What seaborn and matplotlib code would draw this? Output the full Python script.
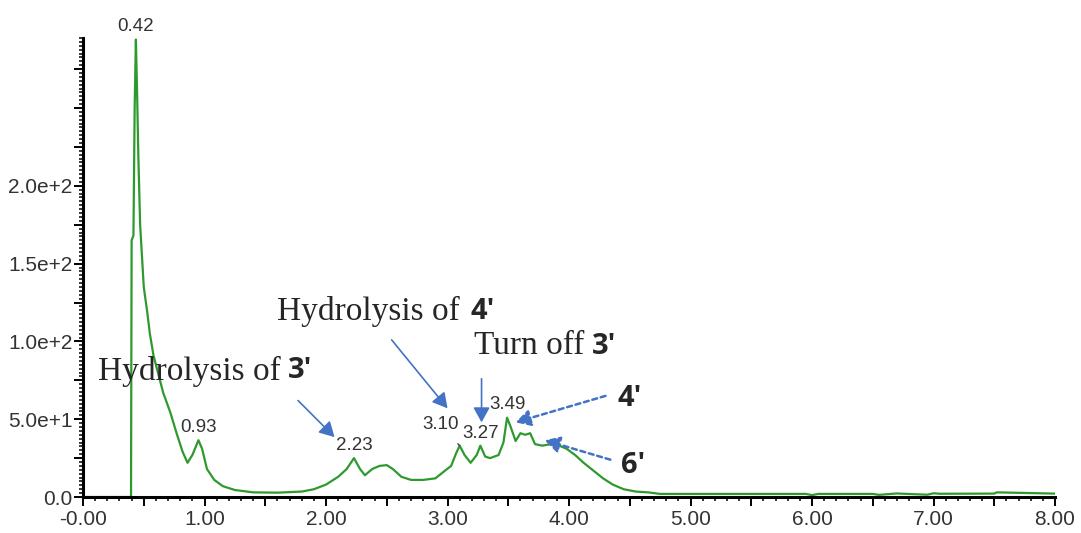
import matplotlib
matplotlib.use("Agg")
import matplotlib.pyplot as plt
import seaborn as sns
import pandas as pd
from matplotlib.ticker import MultipleLocator, FuncFormatter

# retention time (min) and signal
rt = [0.00, 0.38, 0.395, 0.40, 0.415, 0.425, 0.435, 0.445, 0.455, 0.47, 0.50, 0.53,
      0.55, 0.58, 0.62, 0.66, 0.72, 0.77, 0.82, 0.86, 0.90, 0.95, 0.98, 1.02, 1.08,
      1.15, 1.25, 1.40, 1.60, 1.80, 1.90, 2.00, 2.10, 2.17, 2.23, 2.28, 2.32,
      2.38, 2.44, 2.50, 2.55, 2.62, 2.70, 2.80, 2.90, 2.98, 3.03, 3.07, 3.10,
      3.14, 3.19, 3.24, 3.27, 3.31, 3.35, 3.42, 3.46, 3.49, 3.52, 3.56, 3.60,
      3.64, 3.68, 3.72, 3.78, 3.85, 3.92, 3.98, 4.05, 4.12, 4.20, 4.28, 4.36,
      4.45, 4.55, 4.65, 4.75, 5.00, 5.50, 5.95, 6.00, 6.05, 6.50, 6.55, 6.70,
      6.75, 6.95, 7.00, 7.05, 7.50, 7.52, 8.00]
intensity = [0, 0, 0, 165, 168, 250, 294, 260, 220, 175, 135, 118,
             105, 91, 79, 67, 54, 41, 29, 22, 27, 36.5, 31, 18, 11,
             7, 4.5, 3, 2.8, 3.5, 5, 8, 13, 18, 25, 18, 14,
             18, 20, 20.5, 18, 13, 11, 11, 12, 17, 20, 28, 33,
             27, 22, 27, 33, 26, 25, 27, 35, 51, 45, 36, 41,
             40, 41, 34, 33, 34, 33, 31, 27, 22, 17, 12, 8,
             5, 3.5, 3, 2, 2, 2, 2, 1.2, 2, 2, 1.4, 2.3,
             2.1, 1.5, 2.4, 2.1, 2.2, 3, 2.2]

peak_rt = [0.43, 0.95, 2.23, 3.27, 3.49]
peak_val = [294, 36.5, 25, 33, 51]
peak_labels = ["0.42", "0.93", "2.23", "3.27", "3.49"]

x_ticks = [0, 1, 2, 3, 4, 5, 6, 7, 8]
x_labels = ["-0.00", "1.00", "2.00", "3.00", "4.00", "5.00", "6.00", "7.00", "8.00"]
y_ticks = [0, 50, 100, 150, 200]
y_labels = ["0.0", "5.0e+1", "1.0e+2", "1.5e+2", "2.0e+2"]


def pick(ticks, labels):
    def fmt(v, p):
        r = round(v, 3)
        return labels[ticks.index(r)] if r in ticks else ""
    return FuncFormatter(fmt)


sns.set_style("ticks")
plt.rcParams['font.family'] = ['Liberation Sans', 'DejaVu Sans']

fig = plt.figure(figsize=(10.81, 5.33), dpi=100)
ax = fig.add_axes([0.0768, 0.0675, 0.8992, 0.8612])

df = pd.DataFrame({"rt": rt, "intensity": intensity})
sns.lineplot(data=df, x="rt", y="intensity", ax=ax, color="#2e9a2e",
             lw=1.6, estimator=None, sort=False)

ax.set_xlim(0, 8)
ax.set_ylim(0, 295)
ax.set_xlabel("")
ax.set_ylabel("")
sns.despine(ax=ax)
for s in ["left", "bottom"]:
    ax.spines[s].set_linewidth(2.2)
    ax.spines[s].set_color("black")

ax.xaxis.set_major_locator(MultipleLocator(0.5))
ax.xaxis.set_major_formatter(pick(x_ticks, x_labels))
ax.xaxis.set_minor_locator(MultipleLocator(0.1))
ax.yaxis.set_major_locator(MultipleLocator(25))
ax.yaxis.set_major_formatter(pick(y_ticks, y_labels))
ax.yaxis.set_minor_locator(MultipleLocator(2.5))
ax.tick_params(which="major", length=6.5, width=1.4, color="black", labelsize=15, labelcolor="#333333")
ax.tick_params(axis="y", which="major", pad=1)
ax.tick_params(axis="x", which="major", pad=3)
ax.tick_params(which="minor", length=3, width=1.1, color="black")

# peak apex labels
for x, y, lab in zip(peak_rt, peak_val, peak_labels):
    ax.annotate(lab, xy=(x, y), xytext=(0, 3), textcoords="offset points",
                ha="center", va="bottom", fontsize=13.5, color="#333333",
                annotation_clip=False)
ax.annotate("3.10", xy=(3.10, 33), xytext=(-14, 15), textcoords="offset points",
            ha="center", va="center", fontsize=13.5, color="#333333",
            arrowprops=dict(arrowstyle="-", color="#444444", lw=1, shrinkA=7, shrinkB=0))

blue = "#4472c4"
serif = ["Liberation Serif", "DejaVu Serif"]
bold = ["Open Sans", "DejaVu Sans"]

ax.text(0.12, 81, "Hydrolysis of", family=serif, fontsize=24, va="center")
ax.text(1.69, 81, "3\u2032", family=bold, fontweight="bold", fontsize=21, va="center")
ax.text(1.60, 119, "Hydrolysis of", family=serif, fontsize=24, va="center")
ax.text(3.19, 119, "4\u2032", family=bold, fontweight="bold", fontsize=21, va="center")
ax.text(3.22, 97, "Turn off", family=serif, fontsize=24, va="center")
ax.text(4.19, 97, "3\u2032", family=bold, fontweight="bold", fontsize=21, va="center")
ax.text(4.40, 63, "4\u2032", family=bold, fontweight="bold", fontsize=21, va="center")
ax.text(4.43, 20, "6\u2032", family=bold, fontweight="bold", fontsize=21, va="center")

solid = dict(arrowstyle="-|>,head_length=0.9,head_width=0.5", color=blue, lw=1.2, shrinkA=0, shrinkB=0)
dotted = dict(arrowstyle="-|>,head_length=0.9,head_width=0.5", color=blue, lw=1.8,
              linestyle=(0, (2, 1.5)), shrinkA=0, shrinkB=0)
ax.annotate("", xy=(2.07, 38.5), xytext=(1.77, 62), arrowprops=solid)
ax.annotate("", xy=(3.00, 57), xytext=(2.54, 101), arrowprops=solid)
ax.annotate("", xy=(3.28, 48), xytext=(3.28, 76), arrowprops=solid)
ax.annotate("", xy=(3.56, 48), xytext=(4.30, 65), arrowprops=dotted)
ax.annotate("", xy=(3.80, 36.5), xytext=(4.34, 24), arrowprops=dotted)

fig.savefig("out.png", dpi=100)
